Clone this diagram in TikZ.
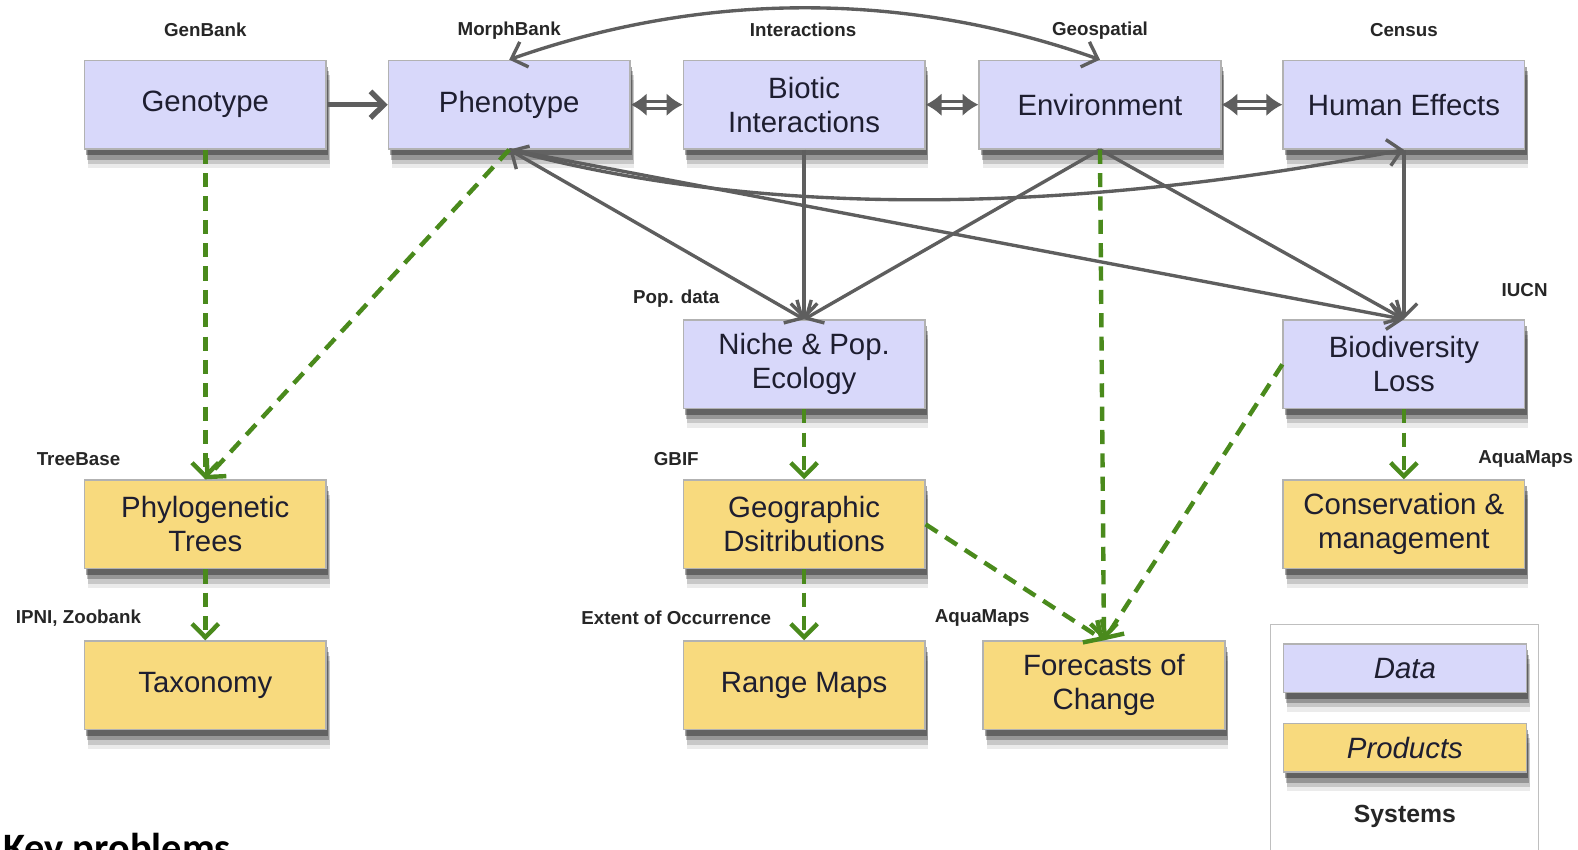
\documentclass[tikz,border=0pt]{standalone}
\usepackage{fontspec}
\setmainfont{Liberation Sans}
\newfontfamily\keyfont{Carlito}
\usetikzlibrary{arrows.meta, shadows}
\definecolor{datablue}{HTML}{D8D8FA}
\definecolor{prodyellow}{HTML}{F8DA7E}
\definecolor{linkgray}{HTML}{5E5E5E}
\definecolor{flowgreen}{HTML}{4A8A1C}
\definecolor{inktext}{HTML}{1E1E30}

\begin{document}
\begin{tikzpicture}[x=0.01cm,y=-0.01cm]
	\tikzstyle{box}=[draw=black!30, line width=0.4pt, minimum width=2.40cm, minimum height=0.88cm, align=center, text=inktext, font=\fontsize{8.3}{9.6}\selectfont,
		drop shadow={shadow xshift=1pt, shadow yshift=-5.5pt, fill=black, opacity=0.08},
		drop shadow={shadow xshift=1pt, shadow yshift=-4.2pt, fill=black, opacity=0.15},
		drop shadow={shadow xshift=0.8pt, shadow yshift=-3pt, fill=black, opacity=0.25},
		drop shadow={shadow xshift=0.5pt, shadow yshift=-1.8pt, fill=black, opacity=0.35}]
	\tikzstyle{data}=[box, fill=datablue]
	\tikzstyle{product}=[box, fill=prodyellow]
	\tikzstyle{source}=[font=\fontsize{5.3}{6}\selectfont\bfseries, text=black!85]
	\tikzstyle{link}=[draw=linkgray, line width=0.95pt, -{Straight Barb[length=3.8pt,width=7.5pt]}]
	\tikzstyle{twoway}=[link, {Straight Barb[length=3.8pt,width=7.5pt]}-{Straight Barb[length=3.8pt,width=7.5pt]}]
	\tikzstyle{swap}=[draw=linkgray, line width=0.8pt, double distance=1.2pt, {Latex[length=4.5pt,width=6.5pt]}-{Latex[length=4.5pt,width=6.5pt]}]
	\tikzstyle{feeds}=[draw=flowgreen, line width=1.25pt, dash pattern=on 4pt off 2.6pt, -{Straight Barb[length=3.8pt,width=7.5pt]}]
	\useasboundingbox (0,0) rectangle (1568,844);
	% data row
	\node (geno) [data] at (204,104) {Genotype};
	\node (pheno) [data] at (506,104) {Phenotype};
	\node (biotic) [data] at (799,104) {Biotic\\Interactions};
	\node (env) [data] at (1093,104) {Environment};
	\node (human) [data] at (1395,104) {Human Effects};
	\node (niche) [data] at (799,362) {Niche \& Pop.\\Ecology};
	\node (bioloss) [data] at (1395,362) {Biodiversity\\Loss};
	% products
	\node (phylo) [product] at (204,521) {Phylogenetic\\Trees};
	\node (geo) [product] at (799,521) {Geographic\\Dsitributions};
	\node (cons) [product] at (1395,521) {Conservation \&\\management};
	\node (taxo) [product] at (204,681) {Taxonomy};
	\node (range) [product] at (799,681) {Range Maps};
	\node (forecast) [product] at (1097,681) {Forecasts of\\Change};
	% systems
	\node (genbank) [source] at (204,30) {GenBank};
	\node (morphbank) [source] at (506,30) {MorphBank};
	\node (interact) [source] at (798,30) {Interactions};
	\node (geospatial) [source] at (1093,30) {Geospatial};
	\node (census) [source] at (1395,30) {Census};
	\node (popdata) [source] at (672,297) {Pop. data};
	\node (iucn) [source] at (1515,288) {IUCN};
	\node (treebase) [source] at (78,456) {TreeBase};
	\node (gbif) [source] at (672,456) {GBIF};
	\node (aquamaps) [source] at (1516,456) {AquaMaps};
	\node (ipni) [source] at (78,614) {IPNI, Zoobank};
	\node (extent) [source] at (672,614) {Extent of Occurrence};
	\node (aquamaps2) [source] at (976,614) {AquaMaps};
	% legend
	\node (legend) [draw=black!25, fill=white, minimum width=2.66cm, minimum height=2.6cm, anchor=north west] at (1262,620) {};
	\node (keydata) [data, minimum width=2.41cm, minimum height=0.48cm] at (1396,664) {\itshape Data};
	\node (keyprod) [product, minimum width=2.41cm, minimum height=0.48cm] at (1396,743) {\itshape Products};
	\node (keysys) [font=\fontsize{7}{8}\selectfont\bfseries, text=black!85] at (1396,811) {Systems};
	\node (keyprob) [anchor=base west, font=\keyfont\bfseries\fontsize{11.4}{14}\selectfont] at (-9,856) {Key problems};
	% gray links
	\draw[link, line width=1.5pt] (geno) -- (pheno);
	\draw[swap] (pheno) -- (biotic);
	\draw[swap] (biotic) -- (env);
	\draw[swap] (env) -- (human);
	\draw[twoway] (pheno.north) .. controls (700,-9) and (900,-9) .. (env.north);
	\draw[twoway] (pheno.south) -- (niche.north);
	\draw[link] (biotic.south) -- (niche.north);
	\draw[link] (env.south) -- (niche.north);
	\draw[link] (env.south) -- (bioloss.north);
	\draw[link] (human.south) -- (bioloss.north);
	\draw[link] (pheno.south) -- (bioloss.north);
	\draw[link] (pheno.south) .. controls (750,215) and (1050,215) .. (human.south);
	% green flows
	\draw[feeds] (geno.south) -- (phylo.north);
	\draw[feeds] (pheno.south) -- (phylo.north);
	\draw[feeds] (phylo) -- (taxo);
	\draw[feeds] (niche) -- (geo);
	\draw[feeds] (geo) -- (range);
	\draw[feeds] (geo.east) -- (forecast.north);
	\draw[feeds] (env.south) -- (forecast.north);
	\draw[feeds] (bioloss.west) -- (forecast.north);
	\draw[feeds] (bioloss) -- (cons);
\end{tikzpicture}
\end{document}
